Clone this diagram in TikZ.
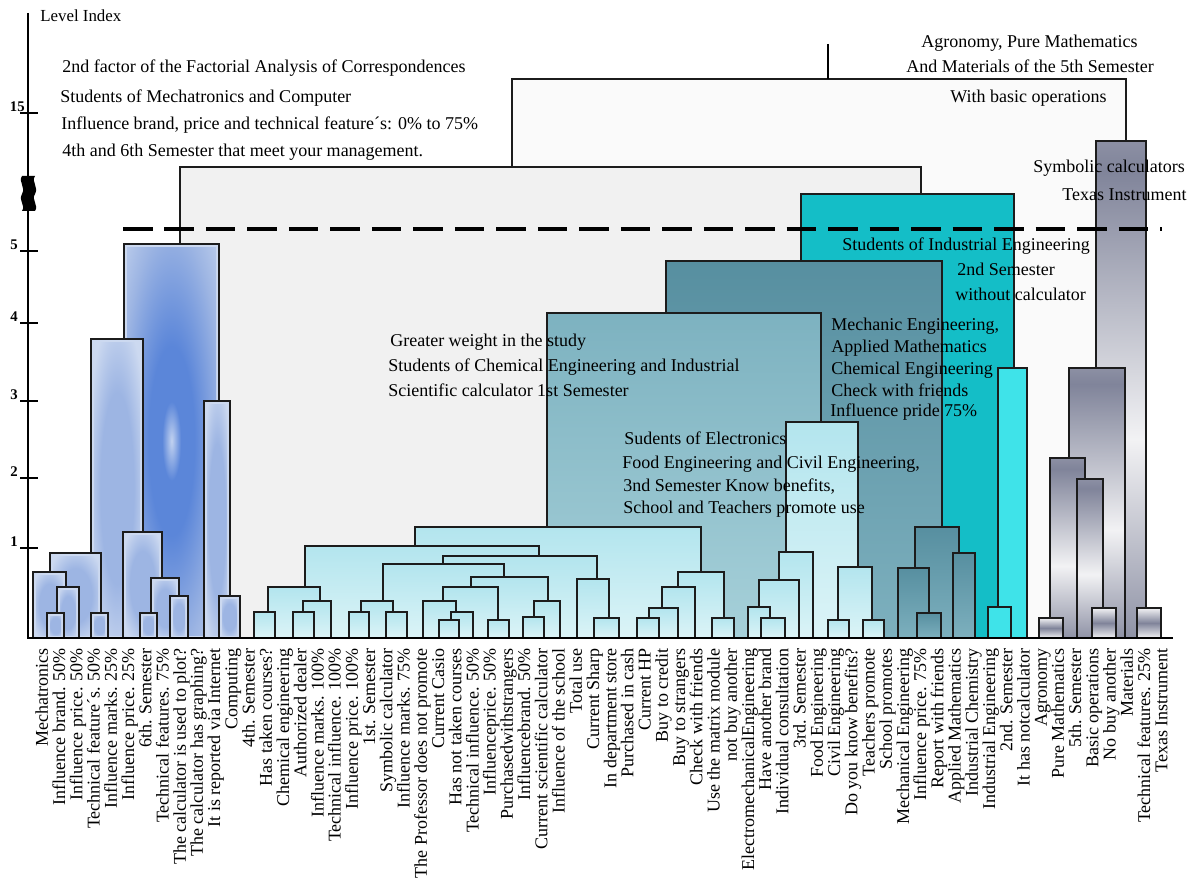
\documentclass[tikz,border=0pt]{standalone}
\usepackage{fontspec}
\setmainfont{Liberation Serif}

\definecolor{boxline}{HTML}{1C1C1C}
\definecolor{greyone}{HTML}{F1F1F1}
\definecolor{greytwo}{HTML}{FAFAFA}
\definecolor{bluelight}{HTML}{CCD9F0}
\definecolor{bluemid}{HTML}{9DB5E3}
\definecolor{kblue}{HTML}{5B86D9}
\definecolor{kpale}{HTML}{C2D2F0}
\definecolor{droptop}{HTML}{B3E5EE}
\definecolor{dropbot}{HTML}{DCF4F7}
\definecolor{darktop}{HTML}{578FA0}
\definecolor{darkbot}{HTML}{7DB0BE}
\definecolor{midtop}{HTML}{7DB2C0}
\definecolor{midbot}{HTML}{A6D0D9}
\definecolor{tealfill}{HTML}{14BEC7}
\definecolor{cyanfill}{HTML}{3FE3E9}
\definecolor{metlight}{HTML}{F2F2F4}
\definecolor{metdark}{HTML}{80849A}

\pgfdeclareradialshading{glow}{\pgfpoint{0bp}{0bp}}{color(0bp)=(bluemid); color(16bp)=(bluemid); color(30bp)=(bluelight); color(50bp)=(bluelight)}
\pgfdeclareradialshading{kglow}{\pgfpoint{0bp}{0bp}}{color(0bp)=(kpale); color(5bp)=(kblue); color(12bp)=(kblue); color(27bp)=(bluemid); color(40bp)=(bluelight); color(50bp)=(bluelight)}
\pgfdeclareverticalshading{metal}{100bp}{color(0bp)=(metlight); color(22bp)=(metdark); color(45bp)=(metlight); color(72bp)=(metdark); color(100bp)=(metlight)}

\begin{document}
\begin{tikzpicture}[x = 0.025cm, y = -0.025cm,
	box/.style = {draw = boxline, line width = 1.4pt},
	greybox/.style = {draw = boxline, line width = 1pt},
	bluebox/.style = {box, fill = bluelight, path picture = {\shade[shading = glow] ([shift = {(3,3)}]path picture bounding box.north west) rectangle ([shift = {(-3,-3)}]path picture bounding box.south east);}},
	kbox/.style = {box, fill = bluelight, path picture = {\shade[shading = kglow] ([shift = {(3,3)}]path picture bounding box.north west) rectangle ([shift = {(-3,-3)}]path picture bounding box.south east);}},
	dropbox/.style = {box, top color = droptop, bottom color = dropbot},
	darkbox/.style = {box, top color = darktop, bottom color = darkbot},
	midbox/.style = {box, top color = midtop, bottom color = midbot},
	tealbox/.style = {box, fill = tealfill},
	cyanbox/.style = {box, fill = cyanfill},
	metalbox/.style = {box, shade, shading = metal},
	chipbox/.style = {box, top color = metlight, bottom color = metlight, middle color = metdark},
	txt/.style = {anchor = base west, inner sep = 0pt, font = \fontsize{12.8}{15}\selectfont},
	leaf/.style = {anchor = base east, rotate = 90, inner sep = 0pt, font = \fontsize{12.8}{15}\selectfont},
	ticklab/.style = {anchor = south east, inner sep = 0pt, font = \bfseries\fontsize{10.5}{12}\selectfont}]
	\useasboundingbox (0,0) rectangle (1197,880);

	\draw[greybox, fill = greytwo] (512,79) rectangle (1126,638);
	\draw[greybox, fill = greyone] (180,167) rectangle (921,638);
	\coordinate (root) at (828,44);
	\coordinate (rootfoot) at (828,79);
	\draw[line width = 1pt] (root) -- (rootfoot);

	\draw[metalbox] (1096,141) rectangle (1146,638);
	\draw[tealbox] (801,194) rectangle (1014,638);
	\draw[darkbox] (666,261) rectangle (942,638);
	\draw[midbox] (547,313) rectangle (821,638);
	\draw[cyanbox] (998,368) rectangle (1027,638);
	\draw[cyanbox] (988,607) rectangle (1011,638);
	\foreach \xa/\ya/\xb in {1069/368/1125, 1050/458/1085, 1077/479/1103}
		\draw[metalbox] (\xa,\ya) rectangle (\xb,638);
	\foreach \xa/\ya/\xb in {1092/608/1116, 1137/608/1161, 1039/618/1063}
		\draw[chipbox] (\xa,\ya) rectangle (\xb,638);

	\draw[kbox] (124,244) rectangle (219,638);
	\foreach \xa/\ya/\xb in {91/339/143, 204/401/230, 123/532/162, 50/553/101, 33/572/66, 151/578/179, 57/587/79, 170/596/188, 219/596/240, 47/613/64, 91/613/108, 140/613/157}
		\draw[bluebox] (\xa,\ya) rectangle (\xb,638);

	\foreach \xa/\ya/\xb in {786/422/858, 415/527/701, 305/546/539, 779/552/813, 443/556/597, 383/564/504, 838/567/872, 678/572/724, 471/577/548, 577/579/609, 759/580/799, 268/587/320, 443/587/498, 662/587/695, 303/601/331, 361/601/393, 423/601/456, 534/601/560, 748/607/770, 649/608/678, 254/612/275, 293/612/314, 349/612/369, 386/612/407, 451/612/473, 523/617/544, 594/618/619, 637/618/659, 712/618/734, 761/618/785, 439/620/459, 488/620/509, 828/620/849, 863/620/884}
		\draw[dropbox] (\xa,\ya) rectangle (\xb,638);
	\foreach \xa/\ya/\xb in {915/527/959, 953/553/975, 898/568/929, 917/613/941}
		\draw[darkbox] (\xa,\ya) rectangle (\xb,638);

	\draw[line width = 2.8pt, dash pattern = on 21pt off 8.5pt] (123,229) -- (1162,229);

	\draw[line width = 2.1pt] (28,13) -- (28,639);
	\draw[line width = 2.1pt] (27,638) -- (1173,638);
	\foreach \ty in {113, 251, 323, 401, 478, 548}
		\draw[line width = 1.4pt] (20,\ty) -- (38,\ty);
	\fill (22,176) .. controls (18,182) and (26,187) .. (22,194) .. controls (18,201) and (26,205) .. (22,211) -- (35,211) .. controls (39,205) and (31,200) .. (35,194) .. controls (39,187) and (31,182) .. (35,176) -- cycle;
	\node[ticklab] (t15) at (25,112) {15};
	\node[ticklab] (t5) at (18,250) {5};
	\node[ticklab] (t4) at (18,322) {4};
	\node[ticklab] (t3) at (18,400) {3};
	\node[ticklab] (t2) at (18,477) {2};
	\node[ticklab] (t1) at (18,547) {1};
	\node[txt, font = \fontsize{12}{14}\selectfont] (levelindex) at (40,22) {Level Index};

	\foreach \lab [count = \i] in {Mechatronics, Influence brand. 50\%, Influence price. 50\%, Technical feature´s. 50\%, Influence marks. 25\%, Influence price. 25\%, 6th. Semester, Technical features. 75\%, The calculator is used to plot?, The calculator has graphing?, It is reported via Internet, Computing, 4th. Semester, Has taken courses?, Chemical engineering, Authorized dealer, Influence marks. 100\%, Technical influence. 100\%, Influence price. 100\%, 1st. Semester, Symbolic calculator, Influence marks. 75\%, The Professor does not promote, Current Casio, Has not taken courses, Technical influence. 50\%, Influenceprice. 50\%, Purchasedwithstrangers, Influencebrand. 50\%, Current scientific calculator, Influence of the school, Total use, Current Sharp, In department store, Purchased in cash, Current HP, Buy to credit, Buy to strangers, Check with friends, Use the matrix module, not buy another, ElectromechanicalEngineering, Have another brand, Individual consultation, 3rd. Semester, Food Engineering, Civil Engineering, Do you know benefits?, Teachers promote, School promotes, Mechanical Engineering, Influence price. 75\%, Report with friends, Applied Mathematics, Industrial Chemistry, Industrial Engineering, 2nd. Semester, It has notcalculator, Agronomy, Pure Mathematics, 5th. Semester, Basic operations, No buy another, Materials, Technical features. 25\%, Texas Instrument}
		\node[leaf] (leaf\i) at ({48 + (\i - 1) * 17.22}, 648) {\lab};

	\node[txt] (mech1) at (62,73) {2nd factor of the Factorial Analysis of Correspondences};
	\node[txt] (mech2) at (60,103) {Students of Mechatronics and Computer};
	\node[txt] (mech3) at (61,130) {Influence brand, price and technical feature´s: 0\% to 75\%};
	\node[txt] (mech4) at (62,157) {4th and 6th Semester that meet your management.};
	\node[txt] (agro1) at (921,48) {Agronomy, Pure Mathematics};
	\node[txt] (agro2) at (906,73) {And Materials of the 5th Semester};
	\node[txt] (agro3) at (950,103) {With basic operations};
	\node[txt] (symb1) at (1033,173) {Symbolic calculators};
	\node[txt] (symb2) at (1062,201) {Texas Instrument};
	\node[txt] (ind1) at (842,250) {Students of Industrial Engineering};
	\node[txt] (ind2) at (957,275) {2nd Semester};
	\node[txt] (ind3) at (955,300) {without calculator};
	\node[txt] (chem1) at (390,346) {Greater weight in the study};
	\node[txt] (chem2) at (388,371) {Students of Chemical Engineering and Industrial};
	\node[txt] (chem3) at (388,396) {Scientific calculator 1st Semester};
	\node[txt] (mecheng1) at (831,330) {Mechanic Engineering,};
	\node[txt] (mecheng2) at (831,352) {Applied Mathematics};
	\node[txt] (mecheng3) at (831,374) {Chemical Engineering};
	\node[txt] (mecheng4) at (831,396) {Check with friends};
	\node[txt] (mecheng5) at (830,416) {Influence pride 75\%};
	\node[txt] (elec1) at (624,444) {Sudents of Electronics};
	\node[txt] (elec2) at (622,468) {Food Engineering and Civil Engineering,};
	\node[txt] (elec3) at (623,491) {3nd Semester Know benefits,};
	\node[txt] (elec4) at (623,513) {School and Teachers promote use};
\end{tikzpicture}
\end{document}
